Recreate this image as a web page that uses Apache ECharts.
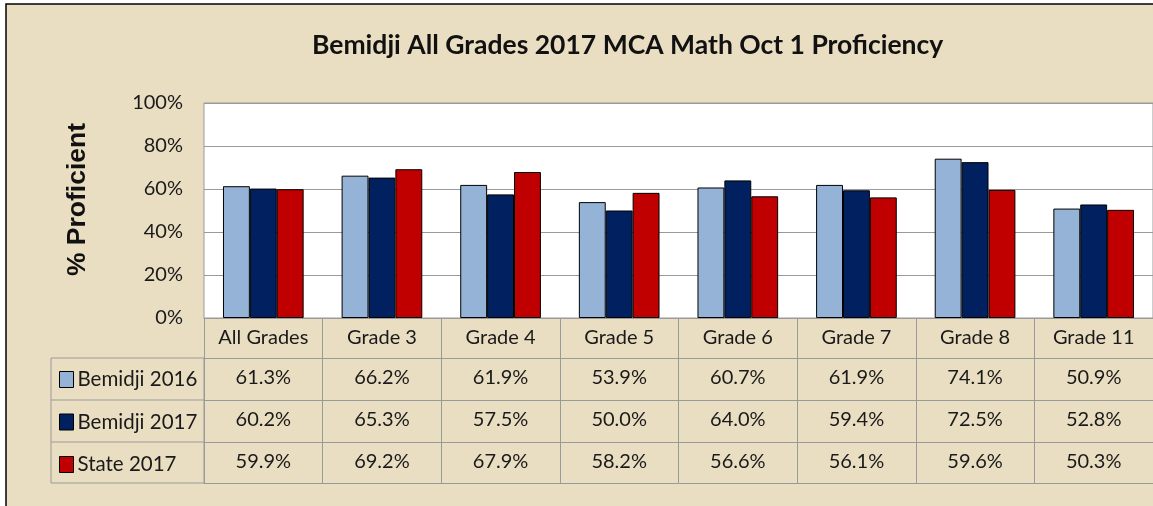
<!DOCTYPE html>
<html>
  <head>
    <meta charset="utf-8" />
    <title>Bemidji MCA Math</title>
    <script src="https://cdn.jsdelivr.net/npm/echarts@6/dist/echarts.min.js"></script>
    <style>
      html, body { margin: 0; padding: 0; background: #fff; }
    </style>
  </head>
  <body>
    <div id="main" style="width: 1153px;height:506px;"></div>
    <script type="text/javascript">
// data
var categories = ['All Grades', 'Grade 3', 'Grade 4', 'Grade 5', 'Grade 6', 'Grade 7', 'Grade 8', 'Grade 11'];
var bemidji2016 = [61.3, 66.2, 61.9, 53.9, 60.7, 61.9, 74.1, 50.9];
var bemidji2017 = [60.2, 65.3, 57.5, 50.0, 64.0, 59.4, 72.5, 52.8];
var state2017 = [59.9, 69.2, 67.9, 58.2, 56.6, 56.1, 59.6, 50.3];
var seriesNames = ['Bemidji 2016', 'Bemidji 2017', 'State 2017'];
var yTicks = [0, 20, 40, 60, 80, 100];

var colors = ['#95b3d7', '#002060', '#c00000'];
var font = 'Lato, "Open Sans", sans-serif';
var lineGray = '#9a9a9a';
var textSize = 20;

var myChart = echarts.init(document.getElementById('main'));

function pct(v) { return v.toFixed(1) + '%'; }

// one extra x axis per table row, showing the values as labels
function tableAxis(values, offset) {
  return {
    type: 'category',
    gridIndex: 0,
    position: 'bottom',
    offset: offset,
    data: values.map(pct),
    axisLine: { show: true, lineStyle: { color: lineGray, width: 1 } },
    axisTick: { show: false },
    axisLabel: { interval: 0, margin: 10, fontSize: textSize, fontFamily: font, color: '#1a1a1a' },
    splitLine: { show: false }
  };
}

myChart.setOption({
  backgroundColor: '#fff',
  animation: false,
  title: {
    text: 'Bemidji All Grades 2017 MCA Math Oct 1 Proficiency',
    left: 307,
    top: 27,
    textStyle: { fontFamily: font, fontWeight: 'bold', fontSize: 26.5, color: '#111' }
  },
  graphic: [
    { type: 'rect', z: -10, shape: { x: 6, y: 4, width: 1200, height: 600 },
      style: { fill: '#eadec2', stroke: '#000', lineWidth: 1.5 } },
    { type: 'rect', z: 10, shape: { x: 51, y: 358, width: 153, height: 125 },
      style: { fill: 'none', stroke: lineGray, lineWidth: 1 } },
    { type: 'line', z: 10, shape: { x1: 51, y1: 400, x2: 204, y2: 400 },
      style: { stroke: lineGray, lineWidth: 1 } },
    { type: 'line', z: 10, shape: { x1: 51, y1: 442, x2: 204, y2: 442 },
      style: { stroke: lineGray, lineWidth: 1 } }
  ],
  legend: {
    data: seriesNames,
    orient: 'vertical',
    left: 59,
    top: 369,
    padding: 0,
    itemWidth: 14,
    itemHeight: 16,
    itemGap: 21.5,
    icon: 'rect',
    itemStyle: { borderColor: '#000', borderWidth: 1 },
    textStyle: { fontFamily: font, fontSize: textSize + 0.5, color: '#1a1a1a', lineHeight: 20, padding: [0, 0, 0, -1] }
  },
  grid: {
    left: 204,
    top: 103,
    right: -5,
    bottom: 188,
    show: true,
    backgroundColor: '#fff',
    borderColor: lineGray,
    borderWidth: 1
  },
  xAxis: [
    {
      type: 'category',
      data: categories,
      position: 'bottom',
      axisLine: { show: true, lineStyle: { color: lineGray } },
      axisTick: { show: true, interval: 0, length: 165, lineStyle: { color: lineGray } },
      axisLabel: { interval: 0, margin: 10, fontSize: textSize, fontFamily: font, color: '#1a1a1a' }
    },
    tableAxis(bemidji2016, 40),
    tableAxis(bemidji2017, 82),
    tableAxis(state2017, 124),
    {
      type: 'category',
      data: categories,
      position: 'bottom',
      offset: 165,
      axisLine: { show: true, lineStyle: { color: lineGray } },
      axisTick: { show: false },
      axisLabel: { show: false }
    }
  ],
  yAxis: {
    type: 'value',
    min: yTicks[0],
    max: yTicks[yTicks.length - 1],
    interval: 20,
    name: '% Proficient',
    nameLocation: 'middle',
    nameGap: 113,
    nameRotate: 90,
    nameTextStyle: {
      fontFamily: '"Liberation Sans", Arial, sans-serif',
      fontWeight: 'bold',
      fontSize: 26.5,
      color: '#111',
      padding: [0, 0, 0, 22]
    },
    axisLine: { show: false },
    axisTick: { show: false },
    axisLabel: {
      formatter: '{value}%',
      margin: 21,
      fontSize: textSize,
      fontFamily: font,
      color: '#1a1a1a'
    },
    splitLine: { lineStyle: { color: lineGray, width: 1.2 } }
  },
  series: [
    {
      name: seriesNames[0],
      type: 'bar',
      data: bemidji2016,
      barGap: '0%',
      barCategoryGap: '32%',
      itemStyle: { color: colors[0], borderColor: '#000', borderWidth: 1 }
    },
    {
      name: seriesNames[1],
      type: 'bar',
      data: bemidji2017,
      itemStyle: { color: colors[1], borderColor: '#000', borderWidth: 1 }
    },
    {
      name: seriesNames[2],
      type: 'bar',
      data: state2017,
      itemStyle: { color: colors[2], borderColor: '#000', borderWidth: 1 }
    }
  ]
});
    </script>
  </body>
</html>
